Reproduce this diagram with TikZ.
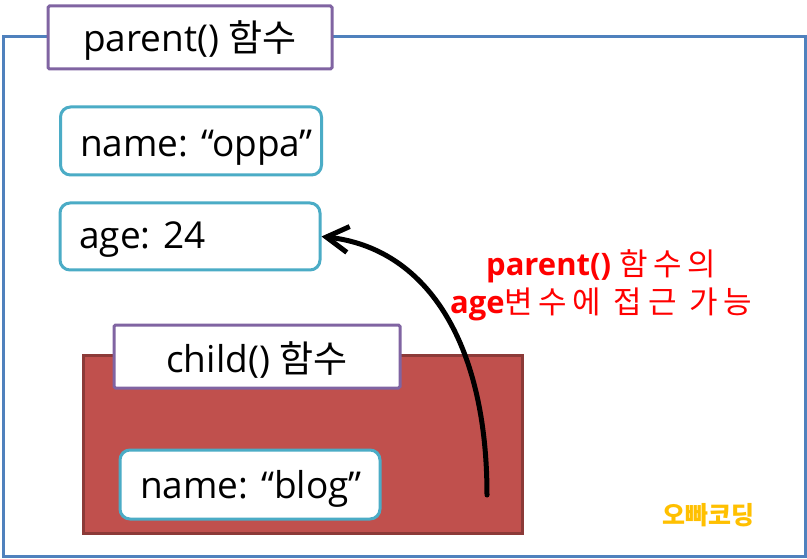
\documentclass[tikz,border=0pt]{standalone}
\usepackage{fontspec}
\setmainfont{Open Sans}
\newfontfamily\kr{Noto Sans CJK KR}
\newfontfamily\krwide[LetterSpace=18]{Noto Sans CJK KR}
\usetikzlibrary{arrows.meta}
\definecolor{outblue}{HTML}{4F81BD}
\definecolor{titpurple}{HTML}{8064A2}
\definecolor{varcyan}{HTML}{4BACC6}
\definecolor{childfill}{HTML}{C0504D}
\definecolor{childline}{HTML}{8C3A38}
\definecolor{notered}{HTML}{FF0000}
\definecolor{markorange}{HTML}{FFC000}
\begin{document}
\begin{tikzpicture}[x=1pt,y=-1pt,
  bigtext/.style={font=\fontsize{37}{42}\selectfont, inner sep=0pt},
  outerframe/.style={draw=outblue, line width=3pt, inner sep=0pt, minimum width=802pt, minimum height=519pt},
  titlebox/.style={draw=titpurple, fill=white, line width=3pt, rounded corners=1.5pt, inner sep=0pt, minimum height=63pt},
  varbox/.style={draw=varcyan, fill=white, line width=3pt, rounded corners=10pt, inner sep=0pt, minimum height=68pt, minimum width=261pt},
  childframe/.style={draw=childline, fill=childfill, line width=3pt, inner sep=0pt, minimum width=439pt, minimum height=178pt},
  notetext/.style={text=notered, font=\fontsize{31}{37}\selectfont, align=center, inner sep=0pt},
  marktext/.style={text=markorange, font=\kr\bfseries\fontsize{25}{28}\selectfont, inner sep=0pt},
  accessarrow/.style={-{Straight Barb[length=22pt,width=26pt,line width=5pt]}, line width=5pt, line cap=round}
]
\useasboundingbox (0,0) rectangle (807,559);
\fill[white] (0,0) rectangle (807,559);

% outer parent frame
\node[outerframe] (outer) at (404,296.5) {};
\node[titlebox, minimum width=284pt] (ptitle) at (190,37.5) {};
\node[bigtext, anchor=base] (ptitletext) at (190,52) {parent() {\kr 함수}};

% parent variables
\node[varbox] (oppa) at (191,141) {};
\node[bigtext, anchor=base west] (oppatext) at (80,157) {name: “oppa”};
\node[varbox, minimum width=260pt, minimum height=67pt] (age) at (190,236.5) {};
\node[bigtext, anchor=base west] (agetext) at (79,249) {age: 24};

% child frame
\node[childframe] (child) at (302.5,444) {};
\node[titlebox, minimum width=286pt] (ctitle) at (257,356.5) {};
\node[bigtext, anchor=base] (ctitletext) at (257,372) {child() {\kr 함수}};
\node[varbox, minimum width=260pt, minimum height=69pt] (blog) at (250,484.5) {};
\node[bigtext, anchor=base west] (blogtext) at (140,498) {name: “blog”};

% arrow
\coordinate (astart) at (487,495);
\draw[accessarrow] (astart) .. controls (487,340) and (425,248) .. (age.east);

% note
\node[notetext, anchor=base] (note1) at (601,276) {\textbf{parent()} {\krwide 함수의}};
\node[notetext, anchor=base] (note2) at (601,313) {\textbf{age}{\krwide 변수에 접근 가능}};

% watermark
\node[marktext] (mark) at (708,515) {오빠코딩};
\end{tikzpicture}
\end{document}
